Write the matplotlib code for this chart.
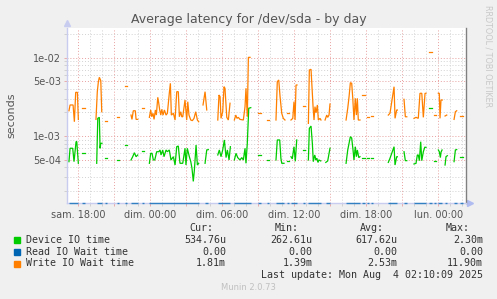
import numpy as np
import matplotlib
matplotlib.use('Agg')
import matplotlib.pyplot as plt
from matplotlib.patches import Rectangle
from matplotlib.ticker import FixedLocator, NullFormatter

W, H = 497, 299

# time axis: hours relative to lun. 00:00
x_ticks = [-30, -24, -18, -12, -6, 0]
x_labels = ['sam. 18:00', 'dim. 00:00', 'dim. 06:00', 'dim. 12:00', 'dim. 18:00', 'lun. 00:00']
y_ticks = [1e-2, 5e-3, 1e-3, 5e-4]
y_labels = ['1e-02', '5e-03', '1e-03', '5e-04']

# (hour, seconds) points, one list per unbroken stretch of data
device_segments = [
    [(-30.78, 4.70e-4), (-30.69, 6.97e-4), (-30.47, 6.97e-4), (-30.36, 4.70e-4), (-30.19, 8.46e-4),
     (-30.13, 8.46e-4), (-30.00, 4.48e-4)],
    [(-29.69, 6.01e-4), (-29.44, 6.01e-4)],
    [(-28.47, 4.48e-4), (-28.38, 1.68e-3), (-28.25, 1.73e-3), (-28.19, 6.97e-4), (-28.13, 8.07e-4),
     (-28.03, 8.07e-4)],
    [(-27.78, 5.19e-4), (-27.63, 5.19e-4)],
    [(-26.75, 4.94e-4), (-26.61, 4.94e-4)],
    [(-26.11, 7.67e-4), (-25.97, 7.67e-4)],
    [(-25.61, 4.94e-4), (-25.47, 5.44e-4), (-25.33, 6.12e-4), (-25.19, 5.44e-4), (-25.05, 5.72e-4)],
    [(-24.72, 6.49e-4), (-24.53, 6.49e-4)],
    [(-24.08, 4.48e-4), (-23.97, 6.01e-4), (-23.86, 6.01e-4), (-23.75, 4.94e-4), (-23.63, 4.94e-4),
     (-23.47, 6.30e-4), (-23.30, 6.30e-4), (-23.19, 6.63e-4), (-23.11, 5.72e-4), (-22.97, 6.63e-4),
     (-22.86, 5.44e-4), (-22.69, 6.63e-4), (-22.58, 6.30e-4), (-22.42, 6.63e-4), (-22.28, 4.94e-4),
     (-22.08, 5.44e-4), (-21.94, 4.26e-4), (-21.80, 7.30e-4), (-21.67, 7.45e-4), (-21.53, 4.48e-4),
     (-21.30, 4.48e-4), (-21.11, 6.97e-4), (-21.03, 4.26e-4), (-20.92, 6.97e-4), (-20.75, 5.44e-4),
     (-20.63, 4.70e-4), (-20.53, 3.87e-4), (-20.42, 2.63e-4), (-20.33, 3.68e-4), (-20.19, 7.67e-4),
     (-20.08, 4.26e-4), (-19.97, 4.48e-4)],
    [(-19.44, 4.48e-4), (-19.30, 6.63e-4), (-19.17, 6.70e-4)],
    [(-18.38, 5.72e-4), (-18.25, 6.63e-4), (-18.11, 5.44e-4), (-17.97, 6.63e-4), (-17.83, 8.90e-4),
     (-17.69, 5.30e-4), (-17.58, 6.63e-4), (-17.44, 4.94e-4), (-17.33, 7.30e-4)],
    [(-17.00, 4.94e-4), (-16.86, 6.01e-4), (-16.72, 5.30e-4), (-16.53, 4.94e-4), (-16.38, 5.30e-4),
     (-16.25, 4.94e-4), (-16.11, 6.97e-4), (-16.03, 4.48e-4), (-15.92, 8.07e-4), (-15.80, 2.26e-3),
     (-15.63, 2.30e-3)],
    [(-15.00, 5.72e-4), (-14.80, 5.72e-4)],
    [(-14.30, 4.94e-4), (-14.08, 4.94e-4)],
    [(-13.53, 4.94e-4), (-13.42, 8.90e-4), (-13.22, 8.90e-4), (-13.12, 5.19e-4), (-13.05, 4.48e-4),
     (-12.86, 4.48e-4)],
    [(-12.63, 4.80e-4), (-12.42, 4.80e-4)],
    [(-12.28, 5.44e-4), (-12.17, 5.10e-4), (-12.03, 7.30e-4), (-11.92, 4.75e-4), (-11.80, 8.90e-4)],
    [(-11.30, 6.63e-4), (-11.11, 6.63e-4)],
    [(-10.83, 4.94e-4), (-10.75, 1.25e-3), (-10.61, 1.34e-3), (-10.50, 8.07e-4), (-10.42, 4.70e-4),
     (-10.30, 5.72e-4), (-10.19, 4.94e-4), (-10.13, 5.19e-4), (-10.03, 4.60e-4), (-9.95, 4.94e-4),
     (-9.80, 4.80e-4)],
    [(-9.38, 4.60e-4), (-9.22, 4.80e-4), (-9.13, 5.72e-4), (-9.03, 6.97e-4)],
    [(-7.69, 4.48e-4), (-7.55, 6.63e-4), (-7.44, 8.07e-4), (-7.33, 9.80e-4), (-7.22, 9.40e-4),
     (-7.11, 6.63e-4), (-7.03, 4.94e-4), (-6.92, 7.30e-4), (-6.83, 5.44e-4), (-6.75, 6.63e-4),
     (-6.63, 5.30e-4), (-6.53, 5.44e-4)],
    [(-6.38, 5.19e-4), (-6.11, 5.19e-4)],
    [(-5.92, 5.19e-4), (-5.75, 5.19e-4)],
    [(-5.61, 5.19e-4), (-5.47, 5.19e-4)],
    [(-4.17, 4.60e-4), (-4.03, 5.19e-4), (-3.69, 7.30e-4), (-3.61, 4.26e-4), (-3.47, 5.44e-4),
     (-3.42, 5.44e-4)],
    [(-2.86, 6.30e-4), (-2.75, 4.84e-4), (-2.63, 4.84e-4)],
    [(-2.03, 4.39e-4), (-1.86, 4.48e-4), (-1.75, 5.72e-4), (-1.67, 5.72e-4), (-1.58, 4.84e-4),
     (-1.47, 8.46e-4), (-1.38, 4.84e-4), (-1.25, 6.30e-4), (-1.13, 7.17e-4), (-1.03, 7.17e-4)],
    [(-0.78, 2.30e-3), (-0.55, 2.30e-3)],
    [(-0.36, 4.84e-4), (-0.19, 4.84e-4)],
    [(0.00, 6.63e-4), (0.08, 6.30e-4), (0.17, 5.30e-4), (0.22, 6.20e-4), (0.31, 6.63e-4)],
    [(0.56, 4.26e-4), (0.64, 5.44e-4), (0.75, 5.60e-4)],
    [(1.31, 4.70e-4), (1.42, 6.63e-4), (1.53, 6.70e-4)],
    [(1.81, 5.35e-4), (2.03, 5.35e-4)],
]

write_segments = [
    [(-30.78, 2.10e-3), (-30.69, 2.49e-3), (-30.44, 2.49e-3), (-30.33, 1.52e-3), (-30.22, 3.61e-3),
     (-30.08, 3.61e-3), (-30.00, 1.63e-3)],
    [(-29.69, 2.26e-3), (-29.44, 2.26e-3)],
    [(-28.53, 1.63e-3), (-28.42, 3.68e-3), (-28.33, 4.94e-3), (-28.25, 5.62e-3), (-28.13, 5.08e-3),
     (-28.05, 2.04e-3)],
    [(-27.78, 1.57e-3), (-27.63, 1.57e-3)],
    [(-26.75, 1.76e-3), (-26.61, 1.76e-3)],
    [(-26.11, 4.35e-3), (-25.97, 4.35e-3)],
    [(-25.61, 1.85e-3), (-25.53, 1.63e-3), (-25.42, 2.10e-3), (-25.25, 2.10e-3), (-25.19, 1.63e-3),
     (-25.05, 1.63e-3)],
    [(-24.72, 2.26e-3), (-24.53, 2.26e-3)],
    [(-24.08, 1.73e-3), (-23.97, 2.15e-3), (-23.88, 1.76e-3), (-23.78, 1.95e-3), (-23.69, 1.63e-3),
     (-23.58, 2.15e-3), (-23.50, 1.85e-3), (-23.38, 3.12e-3), (-23.30, 2.62e-3), (-23.22, 2.15e-3),
     (-23.13, 1.85e-3), (-23.05, 2.19e-3), (-22.94, 1.85e-3), (-22.83, 2.15e-3), (-22.69, 1.85e-3),
     (-22.58, 1.95e-3), (-22.42, 3.51e-3), (-22.33, 4.71e-3), (-22.25, 1.85e-3), (-22.08, 1.95e-3),
     (-21.94, 1.60e-3), (-21.80, 3.68e-3), (-21.67, 3.68e-3), (-21.58, 1.76e-3), (-21.47, 2.04e-3),
     (-21.38, 1.76e-3), (-21.30, 1.76e-3), (-21.11, 2.88e-3), (-20.97, 1.60e-3), (-20.88, 2.74e-3),
     (-20.78, 1.85e-3), (-20.63, 1.60e-3), (-20.50, 1.57e-3), (-20.36, 1.68e-3), (-20.22, 2.04e-3),
     (-20.08, 1.60e-3), (-19.97, 1.52e-3)],
    [(-19.61, 2.49e-3), (-19.44, 3.68e-3), (-19.30, 2.15e-3)],
    [(-18.38, 1.60e-3), (-18.28, 3.34e-3), (-18.19, 3.18e-3), (-18.11, 1.68e-3), (-17.97, 2.04e-3),
     (-17.86, 4.26e-3), (-17.78, 4.07e-3), (-17.63, 1.73e-3), (-17.50, 1.60e-3), (-17.36, 2.62e-3)],
    [(-17.00, 1.60e-3), (-16.88, 1.85e-3), (-16.78, 1.68e-3), (-16.67, 1.73e-3), (-16.53, 1.63e-3),
     (-16.25, 1.60e-3), (-16.11, 2.37e-3), (-16.03, 4.07e-3), (-15.92, 1.76e-3), (-15.83, 1.01e-2),
     (-15.69, 1.01e-2)],
    [(-15.00, 1.98e-3), (-14.80, 1.98e-3)],
    [(-14.30, 1.60e-3), (-14.08, 1.60e-3)],
    [(-13.53, 1.60e-3), (-13.42, 4.94e-3), (-13.30, 5.19e-3), (-13.19, 3.18e-3), (-13.05, 1.95e-3),
     (-12.92, 1.68e-3), (-12.78, 1.60e-3)],
    [(-12.63, 1.98e-3), (-12.42, 1.98e-3)],
    [(-12.28, 1.60e-3), (-12.13, 1.68e-3), (-12.03, 2.74e-3), (-11.94, 1.60e-3), (-11.86, 4.48e-3),
     (-11.78, 4.48e-3)],
    [(-11.30, 2.42e-3), (-11.11, 2.42e-3)],
    [(-10.83, 1.45e-3), (-10.75, 6.96e-3), (-10.61, 7.11e-3), (-10.53, 4.26e-3), (-10.44, 2.37e-3),
     (-10.36, 1.60e-3), (-10.28, 2.37e-3), (-10.19, 1.98e-3), (-10.08, 2.49e-3), (-10.00, 1.60e-3),
     (-9.86, 1.68e-3), (-9.78, 1.60e-3)],
    [(-9.44, 1.60e-3), (-9.30, 1.85e-3), (-9.22, 1.73e-3), (-9.11, 1.85e-3), (-9.03, 2.56e-3)],
    [(-7.69, 1.60e-3), (-7.55, 2.26e-3), (-7.44, 3.18e-3), (-7.33, 4.80e-3), (-7.22, 4.71e-3),
     (-7.13, 3.03e-3), (-7.03, 1.60e-3), (-6.92, 3.03e-3), (-6.83, 1.85e-3), (-6.75, 3.03e-3),
     (-6.67, 1.60e-3), (-6.53, 1.60e-3)],
    [(-6.38, 3.34e-3), (-6.11, 3.34e-3)],
    [(-5.97, 1.73e-3), (-5.75, 1.73e-3)],
    [(-5.61, 1.80e-3), (-5.42, 1.80e-3)],
    [(-4.17, 1.85e-3), (-4.03, 1.95e-3), (-3.69, 4.26e-3), (-3.61, 1.68e-3), (-3.47, 2.15e-3),
     (-3.42, 2.15e-3)],
    [(-2.86, 2.94e-3), (-2.75, 1.76e-3), (-2.63, 1.76e-3)],
    [(-2.03, 1.68e-3), (-1.86, 1.73e-3), (-1.67, 1.68e-3), (-1.53, 3.51e-3), (-1.38, 3.51e-3),
     (-1.25, 1.73e-3), (-1.11, 3.51e-3), (-1.03, 3.51e-3)],
    [(-0.78, 1.19e-2), (-0.55, 1.19e-2)],
    [(-0.36, 1.85e-3), (-0.19, 1.85e-3)],
    [(0.00, 3.51e-3), (0.08, 3.51e-3), (0.14, 1.68e-3), (0.22, 2.88e-3), (0.33, 2.88e-3)],
    [(0.56, 1.80e-3), (0.70, 1.85e-3)],
    [(1.31, 1.63e-3), (1.42, 2.04e-3), (1.53, 2.10e-3)],
    [(1.81, 1.81e-3), (2.03, 1.81e-3)],
]

read_value = 0.0  # read IO wait stays at zero all day

series_names = ['Device IO time', 'Read IO Wait time', 'Write IO Wait time']
series_colors = ['#00cc00', '#0066b3', '#ff8000']
stats_cur = ['534.76u', '0.00', '1.81m']
stats_min = ['262.61u', '0.00', '1.39m']
stats_avg = ['617.62u', '0.00', '2.53m']
stats_max = ['2.30m', '0.00', '11.90m']

xmin, xmax = -30.97, 2.28
ymin, ymax = 1.394e-4, 2.394e-2

fig = plt.figure(figsize=(W / 100, H / 100), dpi=100, facecolor='#f0f0f0')
ax = fig.add_axes([66.7 / W, (H - 203) / H, 399 / W, 175 / H])
ax.set_facecolor('white')
ax.set_yscale('log')
ax.set_xlim(xmin, xmax)
ax.set_ylim(ymin, ymax)

# grid: hours / 3 hours, log minors / labelled values
ax.xaxis.set_major_locator(FixedLocator(np.arange(-30, 3, 3)))
ax.xaxis.set_minor_locator(FixedLocator(np.arange(-30, 3, 1)))
ax.set_xticklabels([x_labels[x_ticks.index(t)] if t in x_ticks else ''
                    for t in np.arange(-30, 3, 3)])
minors = [m * 10.0 ** k for k in (-4, -3, -2) for m in range(1, 10)]
minors = [v for v in minors if not any(np.isclose(v, y_ticks))]
ax.yaxis.set_major_locator(FixedLocator(y_ticks))
ax.yaxis.set_minor_locator(FixedLocator(minors))
ax.yaxis.set_minor_formatter(NullFormatter())
ax.set_yticklabels(y_labels)
ax.grid(which='minor', color='#d2d2d2', linestyle=(0, (1, 2)), linewidth=0.7)
ax.grid(which='major', color='#e8a0a0', linestyle=(0, (1, 2)), linewidth=0.7)
ax.set_axisbelow(True)
ax.tick_params(which='major', length=2, width=0.6, color='#e8a0a0', labelsize=7,
               labelcolor='#555555', pad=2)
ax.tick_params(which='minor', length=2, width=0.6, color='#cccccc')
ax.tick_params(axis='x', which='major', pad=3)

ax.spines['top'].set_visible(False)
ax.spines['left'].set_color('#c8cdf0')
ax.spines['bottom'].set_color('#c8cdf0')
ax.spines['right'].set_color('#808080')
for s in ax.spines.values():
    s.set_linewidth(1.0)

# series
for seg in device_segments:
    t = [p[0] for p in seg]
    ax.plot(t, [max(read_value, ymin)] * len(t), color=series_colors[1], lw=1.0, alpha=0.75,
            clip_on=False, zorder=3, solid_capstyle='butt')
for seg in device_segments:
    ax.plot([p[0] for p in seg], [p[1] for p in seg], color=series_colors[0], lw=0.9,
            zorder=4, solid_joinstyle='miter')
for seg in write_segments:
    ax.plot([p[0] for p in seg], [p[1] for p in seg], color=series_colors[2], lw=0.9,
            zorder=4, solid_joinstyle='miter')

# axis arrows
ax.plot([0], [1.03], marker='^', ms=4, color='#c8cdf0', transform=ax.transAxes, clip_on=False)
ax.plot([1.012], [0], marker='>', ms=4, color='#b0bcf0', transform=ax.transAxes, clip_on=False)

ax.set_ylabel('seconds', fontsize=8, color='#555555')
ax.yaxis.set_label_coords((16.5 - 66.7) / 399, 0.5)

def ftext(x, y, s, **kw):
    fig.text(x / W, 1 - y / H, s, **kw)

ftext(248.5, 19.5, 'Average latency for /dev/sda - by day', fontsize=9, color='#555555',
      ha='center', va='center')
ftext(488, 5, 'RRDTOOL / TOBI OETIKER', fontsize=5.8, color='#c8c8c8', rotation=270,
      ha='center', va='top')

mono = dict(family='DejaVu Sans Mono', fontsize=7.2, color='#333333', va='center')
ftext(213, 228, 'Cur:', ha='right', **mono)
ftext(299, 228, 'Min:', ha='right', **mono)
ftext(384, 228, 'Avg:', ha='right', **mono)
ftext(470, 228, 'Max:', ha='right', **mono)
row_y = [240, 252, 263.5]
for i, name in enumerate(series_names):
    fig.add_artist(Rectangle((14 / W, 1 - (row_y[i] + 3) / H), 6 / W, 6 / H,
                             transform=fig.transFigure, color=series_colors[i]))
    ftext(26, row_y[i], name, ha='left', **mono)
    ftext(226, row_y[i], stats_cur[i], ha='right', **mono)
    ftext(312.5, row_y[i], stats_min[i], ha='right', **mono)
    ftext(397, row_y[i], stats_avg[i], ha='right', **mono)
    ftext(483, row_y[i], stats_max[i], ha='right', **mono)
ftext(483, 275.5, 'Last update: Mon Aug  4 02:10:09 2025', ha='right', **mono)
ftext(248, 288, 'Munin 2.0.73', fontsize=6, color='#c0c0c0', ha='center', va='center')

fig.savefig('out.png', dpi=100, facecolor=fig.get_facecolor())
